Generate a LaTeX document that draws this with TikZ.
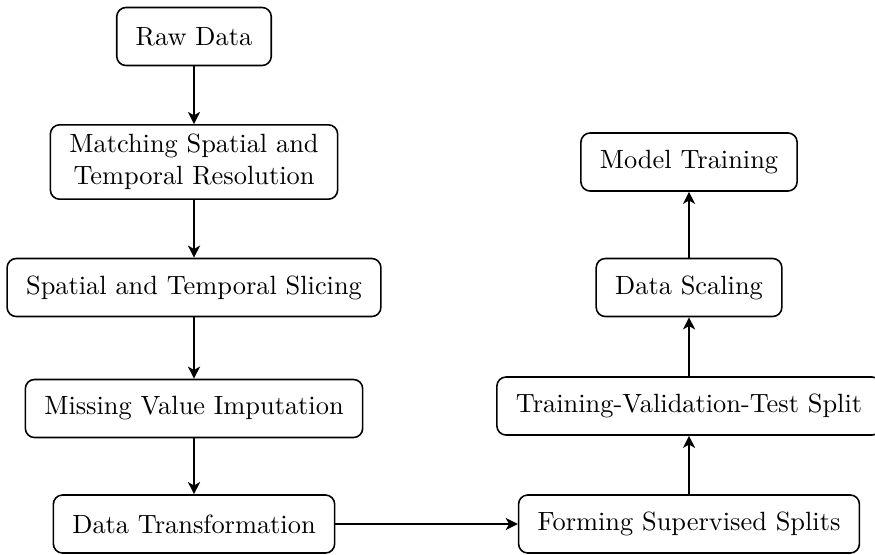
\documentclass[tikz,border=0pt]{standalone}
\usetikzlibrary{arrows.meta}
\begin{document}
\begin{tikzpicture}[
  x=0.379pt, y=-0.379pt,
  stage/.style={draw, rounded corners=3.5pt, line width=0.6pt, align=center,
    inner xsep=7.2pt, inner ysep=3.6pt, minimum height=22pt},
  flow/.style={-{Stealth[length=4.6pt,width=4.6pt,inset=1.3pt]}, line width=0.6pt}
]
\useasboundingbox (0,0) rectangle (875,554);

% left column: preparation steps
\node[stage] (raw)   at (194,36.5)  {Raw Data};
\node[stage] (match) at (194,162)   {Matching Spatial and\\Temporal Resolution};
\node[stage] (slice) at (194,287.5) {Spatial and Temporal Slicing};
\node[stage] (miss)  at (194,408.5) {Missing Value Imputation};
\node[stage] (trans) at (194,524)   {Data Transformation};

% right column: from splits to training
\node[stage] (form)  at (689,524)   {Forming Supervised Splits};
\node[stage] (tvt)   at (689,406)   {Training-Validation-Test Split};
\node[stage] (scale) at (689,287.5) {Data Scaling};
\node[stage] (model) at (689,162)   {Model Training};

\draw[flow] (raw) -- (match);
\draw[flow] (match) -- (slice);
\draw[flow] (slice) -- (miss);
\draw[flow] (miss) -- (trans);
\draw[flow] (trans) -- (form);
\draw[flow] (form) -- (tvt);
\draw[flow] (tvt) -- (scale);
\draw[flow] (scale) -- (model);
\end{tikzpicture}
\end{document}
